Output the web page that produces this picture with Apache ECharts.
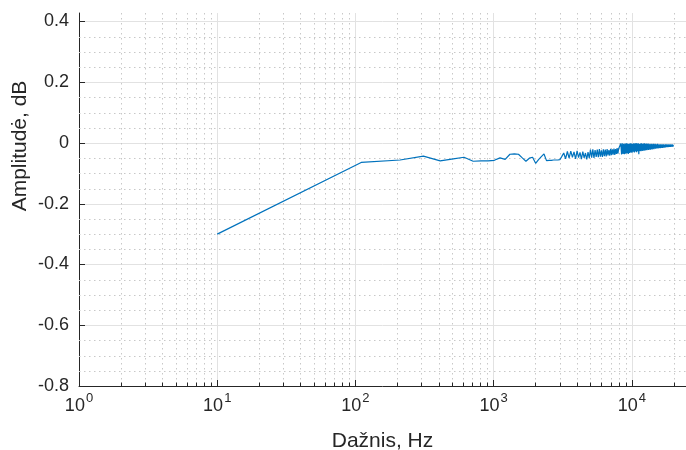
<!DOCTYPE html>
<html>
<head>
<meta charset="utf-8">
<script src="https://cdn.jsdelivr.net/npm/echarts@6/dist/echarts.min.js"></script>
<style>
html, body { margin: 0; padding: 0; background: #ffffff; }
#chart { width: 686px; height: 450px; }
</style>
</head>
<body>
<div id="chart"></div>
<script>
// Frequency bins, Hz
const frequencyHz = [
  10, 110, 210, 310, 410, 510, 610, 710, 810, 910, 1010, 1110, 1210, 1310, 1410, 1510, 1610, 1710, 1810, 1910,
  2010, 2110, 2210, 2310, 2410, 2510, 2610, 2710, 2810, 2910, 3010, 3110, 3210, 3310, 3410, 3510, 3610, 3710, 3810, 3910,
  4010, 4110, 4210, 4310, 4410, 4510, 4610, 4710, 4810, 4910, 5010, 5110, 5210, 5310, 5410, 5510, 5610, 5710, 5810, 5910,
  6010, 6110, 6210, 6310, 6410, 6510, 6610, 6710, 6810, 6910, 7010, 7110, 7210, 7310, 7410, 7510, 7610, 7710, 7810, 7910,
  8010, 8110, 8210, 8310, 8410, 8510, 8610, 8710, 8810, 8910, 9010, 9110, 9210, 9310, 9410, 9510, 9610, 9710, 9810, 9910,
  10010, 10110, 10210, 10310, 10410, 10510, 10610, 10710, 10810, 10910, 11010, 11110, 11210, 11310, 11410, 11510, 11610, 11710, 11810, 11910,
  12010, 12110, 12210, 12310, 12410, 12510, 12610, 12710, 12810, 12910, 13010, 13110, 13210, 13310, 13410, 13510, 13610, 13710, 13810, 13910,
  14010, 14110, 14210, 14310, 14410, 14510, 14610, 14710, 14810, 14910, 15010, 15110, 15210, 15310, 15410, 15510, 15610, 15710, 15810, 15910,
  16010, 16110, 16210, 16310, 16410, 16510, 16610, 16710, 16810, 16910, 17010, 17110, 17210, 17310, 17410, 17510, 17610, 17710, 17810, 17910,
  18010, 18110, 18210, 18310, 18410, 18510, 18610, 18710, 18810, 18910, 19010, 19110, 19210, 19310, 19410, 19510, 19610, 19710, 19810, 19910
];

// Measured amplitude response, dB
const amplitudeDb = [
  -0.300, -0.064, -0.056, -0.043, -0.059, -0.052, -0.047, -0.060, -0.059, -0.059,
  -0.057, -0.049, -0.054, -0.037, -0.036, -0.037, -0.049, -0.060, -0.050, -0.047,
  -0.067, -0.055, -0.045, -0.036, -0.058, -0.057, -0.057, -0.056, -0.056, -0.056,
  -0.055, -0.044, -0.033, -0.052, -0.028, -0.050, -0.027, -0.047, -0.029, -0.052,
  -0.026, -0.048, -0.031, -0.053, -0.028, -0.049, -0.033, -0.054, -0.030, -0.050,
  -0.022, -0.048, -0.021, -0.049, -0.023, -0.046, -0.022, -0.047, -0.020, -0.045,
  -0.024, -0.046, -0.021, -0.043, -0.022, -0.044, -0.020, -0.041, -0.023, -0.042,
  -0.019, -0.040, -0.021, -0.038, -0.018, -0.039, -0.020, -0.036, -0.017, -0.035,
  -0.019, -0.022, -0.018, -0.002, -0.038, -0.001, -0.036, -0.003, -0.037, -0.002,
  -0.035, -0.001, -0.034, -0.002, -0.036, -0.003, -0.033, -0.001, -0.031, -0.002,
  -0.032, -0.003, -0.029, -0.001, -0.031, -0.002, -0.028, 0.000, -0.030, -0.002,
  -0.027, -0.001, -0.037, -0.003, -0.026, -0.002, -0.027, -0.001, -0.025, -0.003,
  -0.026, -0.002, -0.024, -0.001, -0.025, -0.003, -0.023, -0.002, -0.024, -0.003,
  -0.022, -0.002, -0.023, -0.004, -0.021, -0.003, -0.022, -0.004, -0.020, -0.003,
  -0.021, -0.004, -0.019, -0.003, -0.020, -0.004, -0.018, -0.003, -0.019, -0.004,
  -0.018, -0.004, -0.017, -0.003, -0.018, -0.005, -0.017, -0.004, -0.016, -0.005,
  -0.017, -0.004, -0.016, -0.005, -0.015, -0.004, -0.016, -0.005, -0.015, -0.004,
  -0.015, -0.005, -0.014, -0.005, -0.015, -0.004, -0.014, -0.005, -0.014, -0.004,
  -0.013, -0.005, -0.014, -0.005, -0.013, -0.004, -0.013, -0.005, -0.012, -0.005,
  -0.013, -0.004, -0.012, -0.005, -0.012, -0.006, -0.011, -0.005, -0.012, -0.006
];

// Axis ticks
const xDecades = [1, 10, 100, 1000, 10000];
const yTickValues = [-0.8, -0.6, -0.4, -0.2, 0, 0.2, 0.4];

const X_MIN = 1, X_MAX = 24600;
const Y_MIN = -0.8, Y_MAX = 0.428;
const FONT = '"Liberation Sans", Arial, Helvetica, sans-serif';
const INK = '#262626';
const LINE_BLUE = '#0072BD';
const MAJOR_GRID = '#e2e2e2';
const MINOR_GRID = '#c8c8c8';

// Minor grid positions: 2..9 within each decade, and every 0.05 dB
const xMinor = [];
xDecades.forEach(function (d) {
  for (let m = 2; m <= 9; m++) {
    if (m * d < X_MAX) xMinor.push([m * d, 0]);
  }
});
const yMinor = [];
for (let i = 0; i < yTickValues.length - 1; i++) {
  for (let j = 1; j < 4; j++) {
    yMinor.push([1, +(yTickValues[i] + j * 0.05).toFixed(2)]);
  }
}

const seriesData = frequencyHz.map(function (f, i) { return [f, amplitudeDb[i]]; });

const chart = echarts.init(document.getElementById('chart'), null, { renderer: 'canvas' });

chart.setOption({
  animation: false,
  backgroundColor: '#ffffff',
  grid: { left: 79, right: 0, top: 13, bottom: 64, containLabel: false, outerBoundsMode: 'none' },
  xAxis: {
    type: 'log',
    logBase: 10,
    min: X_MIN,
    max: X_MAX,
    name: 'Dažnis, Hz',
    nameLocation: 'middle',
    nameGap: 45,
    nameTextStyle: { color: INK, fontFamily: FONT, fontSize: 21 },
    axisLine: { show: true, onZero: false, lineStyle: { color: INK, width: 1 } },
    axisTick: { show: true, inside: true, length: 6, lineStyle: { color: INK, width: 1 } },
    axisLabel: {
      margin: 6,
      color: INK,
      fontFamily: FONT,
      fontSize: 18,
      showMaxLabel: false,
      formatter: function (v) {
        const e = Math.log10(v);
        const r = Math.round(e);
        if (Math.abs(e - r) > 1e-6) return '';
        return '{b|10}{sup|' + r + '}';
      },
      rich: {
        b: { fontFamily: FONT, fontSize: 18, color: INK, lineHeight: 23, verticalAlign: 'bottom' },
        sup: { fontFamily: FONT, fontSize: 13, color: INK, lineHeight: 23, verticalAlign: 'top', padding: [0, 0, 0, 1] }
      }
    },
    splitLine: { show: true, showMaxLine: false, lineStyle: { color: MAJOR_GRID, width: 1 } }
  },
  yAxis: {
    type: 'value',
    min: Y_MIN,
    max: Y_MAX,
    interval: 0.2,
    axisLine: { show: true, lineStyle: { color: INK, width: 1 } },
    axisTick: { show: true, inside: true, length: 6, customValues: yTickValues, lineStyle: { color: INK, width: 1 } },
    axisLabel: {
      margin: 10,
      color: INK,
      fontFamily: FONT,
      fontSize: 18,
      customValues: yTickValues,
      formatter: function (v) {
        const r = Math.round(v * 10) / 10;
        if (Math.abs(v - r) > 1e-6) return '';
        return r === 0 ? '0' : String(r);
      }
    },
    splitLine: { show: true, lineStyle: { color: MAJOR_GRID, width: 1 } }
  },
  graphic: [{
    type: 'text',
    x: 20,
    y: 146,
    rotation: Math.PI / 2,
    silent: true,
    style: {
      text: 'Amplitudė, dB',
      fontFamily: FONT,
      fontSize: 21,
      fill: INK,
      align: 'center',
      verticalAlign: 'middle'
    }
  }],
  series: [
    {
      // dotted minor grid + minor ticks on the frequency axis
      type: 'custom',
      silent: true,
      z: 1,
      data: xMinor,
      encode: { x: 0, y: 1 },
      renderItem: function (params, api) {
        const cs = params.coordSys;
        const x = Math.round(api.coord([api.value(0), 0])[0]) + 0.5;
        const yb = cs.y + cs.height;
        return {
          type: 'group',
          children: [
            { type: 'line', shape: { x1: x, y1: cs.y, x2: x, y2: yb },
              style: { stroke: MINOR_GRID, lineWidth: 1, lineDash: [1.5, 3.5] } },
            { type: 'line', shape: { x1: x, y1: yb, x2: x, y2: yb - 3.5 },
              style: { stroke: INK, lineWidth: 1 } }
          ]
        };
      }
    },
    {
      // dotted minor grid on the amplitude axis
      type: 'custom',
      silent: true,
      z: 1,
      data: yMinor,
      encode: { x: 0, y: 1 },
      renderItem: function (params, api) {
        const cs = params.coordSys;
        const y = Math.round(api.coord([1, api.value(1)])[1]) + 0.5;
        return {
          type: 'line',
          shape: { x1: cs.x, y1: y, x2: cs.x + cs.width, y2: y },
          style: { stroke: MINOR_GRID, lineWidth: 1, lineDash: [1.5, 3.5] }
        };
      }
    },
    {
      type: 'line',
      name: 'Amplitudė',
      data: seriesData,
      showSymbol: false,
      symbol: 'none',
      z: 5,
      clip: true,
      lineStyle: { color: LINE_BLUE, width: 1.2 },
      itemStyle: { color: LINE_BLUE }
    }
  ]
});
</script>
</body>
</html>
